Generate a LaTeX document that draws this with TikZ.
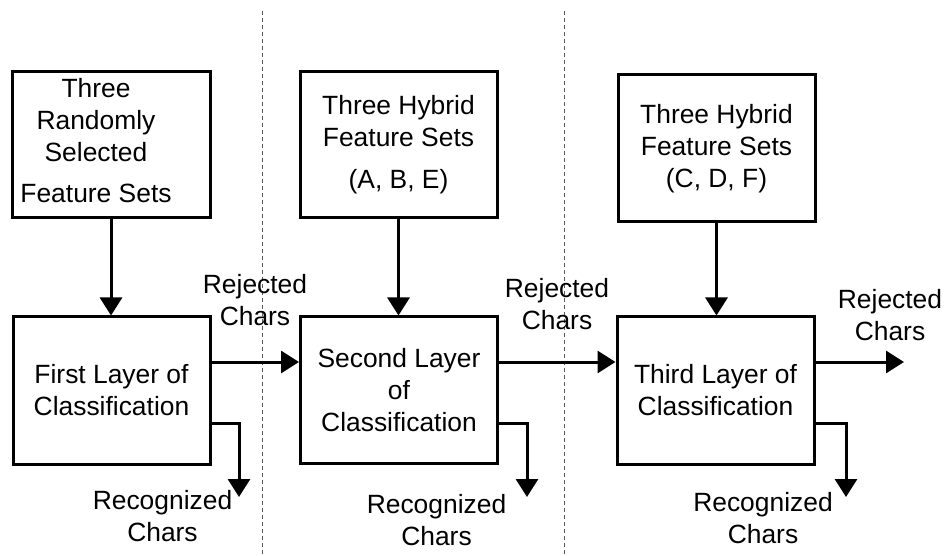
\documentclass[tikz,border=0pt]{standalone}
\usepackage{fontspec}
\setmainfont{Liberation Sans}
\usetikzlibrary{arrows.meta}
\begin{document}
\begin{tikzpicture}[x=1pt,y=-1pt,
  lbl/.style={inner sep=0pt, align=center, font=\fontsize{26.4}{32}\selectfont},
  box/.style={lbl, draw, line width=3pt, minimum width=197pt, minimum height=146pt},
  flow/.style={line width=3pt, -{Triangle[length=18pt,width=22pt]}},
  divider/.style={black!65, line width=1pt, dash pattern=on 4pt off 3pt}]
  \useasboundingbox (0,0) rectangle (946,556);

  % stage dividers
  \draw[divider] (262.5,11) -- (262.5,556);
  \draw[divider] (564,11) -- (564,556);

  % feature-set boxes
  \node[box, minimum width=198pt] (s1) at (111,145) {};
  \node[lbl] (s1t) at (96,141) {Three\\Randomly\\Selected\\[9pt]Feature Sets};
  \node[box] (s2) at (398.5,145) {Three Hybrid\\Feature Sets\\[10pt](A, B, E)};
  \node[box, minimum height=147pt] (s3) at (716.5,148.5) {Three Hybrid\\Feature Sets\\(C, D, F)};

  % classification layers
  \node[box, minimum height=147pt] (l1) at (111.5,390.5) {First Layer of\\Classification};
  \node[box] (l2) at (399,390) {Second Layer\\of\\Classification};
  \node[box, minimum height=147pt] (l3) at (715.5,390.5) {Third Layer of\\Classification};

  % feature sets feed each layer
  \draw[flow] (s1.south) -- (s1.south |- l1.north);
  \draw[flow] (s2.south) -- (s2.south |- l2.north);
  \draw[flow] (s3.south) -- (s3.south |- l3.north);

  % rejected characters pass to the next layer
  \coordinate (rej) at (0,362);
  \coordinate (out3) at (904,362);
  \draw[flow] (l1.east |- rej) -- (l2.west |- rej);
  \draw[flow] (l2.east |- rej) -- (l3.west |- rej);
  \draw[flow] (l3.east |- rej) -- (out3);

  % recognized characters leave each layer
  \coordinate (rec) at (0,423);
  \coordinate (rec1) at (239,497);
  \coordinate (rec2) at (527,497);
  \coordinate (rec3) at (846,497);
  \draw[flow] (l1.east |- rec) -| (rec1);
  \draw[flow] (l2.east |- rec) -| (rec2);
  \draw[flow] (l3.east |- rec) -| (rec3);

  % connector labels
  \node[lbl] (rj1) at (255,300) {Rejected\\Chars};
  \node[lbl] (rj2) at (557,304) {Rejected\\Chars};
  \node[lbl] (rj3) at (890,315) {Rejected\\Chars};
  \node[lbl] (rc1) at (162.5,516.5) {Recognized\\Chars};
  \node[lbl] (rc2) at (436.5,520) {Recognized\\Chars};
  \node[lbl] (rc3) at (763,518.5) {Recognized\\Chars};
\end{tikzpicture}
\end{document}
